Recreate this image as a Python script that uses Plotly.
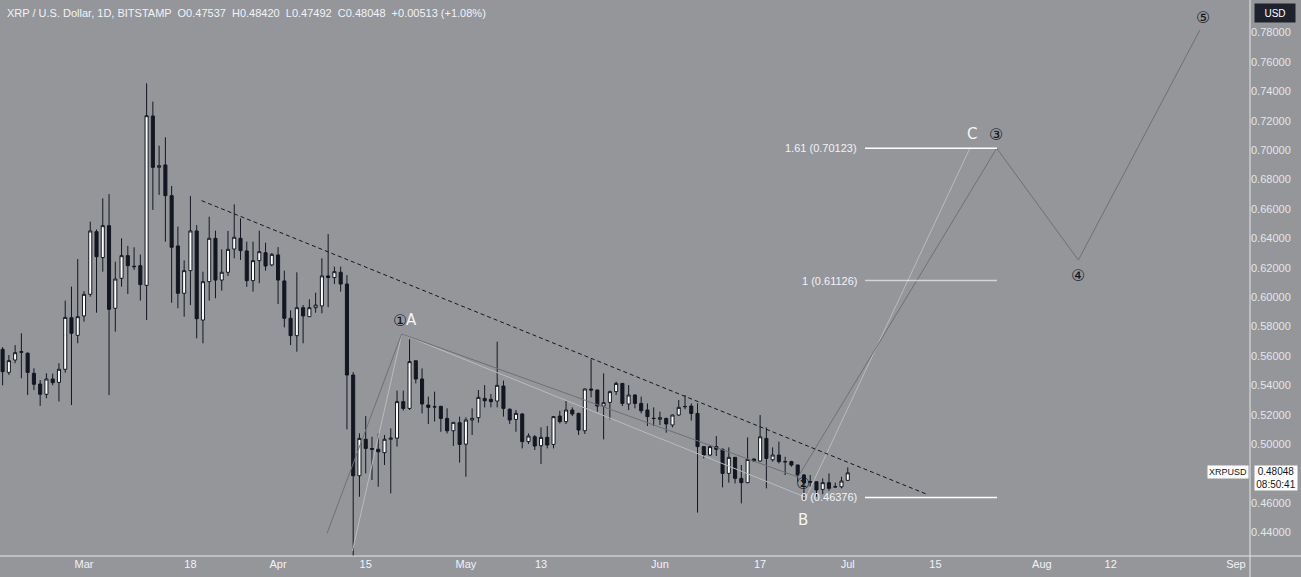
import pandas as pd
import plotly.graph_objects as go

# ---------------- data ----------------
dates = pd.date_range("2024-02-17", "2024-07-01", freq="D")

opens = [
    0.5645, 0.5488, 0.5572, 0.5629, 0.5618, 0.5482, 0.5409, 0.5339, 0.5443, 0.5420, 0.5509, 0.5860, 0.5740,
    0.5872, 0.6019, 0.6445, 0.6269, 0.6486, 0.5924, 0.6128, 0.6282, 0.6210, 0.6214, 0.6080, 0.7232, 0.6883,
    0.6899, 0.6690, 0.6348, 0.6026, 0.6180, 0.6450, 0.5844, 0.6105, 0.6400, 0.6116, 0.6169, 0.6327, 0.6400,
    0.6314, 0.6112, 0.6248, 0.6302, 0.6219,
    0.6287, 0.6110, 0.5856, 0.5738, 0.5928, 0.5867, 0.5928, 0.5940, 0.6144, 0.6133, 0.6169, 0.6089, 0.5470,
    0.4785, 0.5033, 0.4970, 0.4965, 0.4942, 0.5033, 0.5041, 0.5289, 0.5243, 0.5567, 0.5443, 0.5266, 0.5255,
    0.5257, 0.5175, 0.5091, 0.5146,
    0.5000, 0.5164, 0.5180, 0.5311, 0.5305, 0.5293, 0.5395, 0.5237, 0.5168, 0.5205, 0.5017, 0.5050, 0.4989,
    0.5046, 0.4998, 0.5191, 0.5153, 0.5232, 0.5209, 0.5091, 0.5375, 0.5368, 0.5259, 0.5284, 0.5357, 0.5413,
    0.5273, 0.5334, 0.5277, 0.5232, 0.5176,
    0.5169, 0.5175, 0.5130, 0.5198, 0.5254, 0.5259, 0.5209, 0.4983, 0.4926, 0.4983, 0.4965, 0.4801, 0.4910,
    0.4767, 0.4738, 0.4899, 0.4885, 0.5039, 0.4894, 0.4926, 0.4881, 0.4881, 0.4858, 0.4790, 0.4740, 0.4744,
    0.4692, 0.4738, 0.4708, 0.4710,
    0.47537,
]
highs = [
    0.5660, 0.5606, 0.5674, 0.5754, 0.5625, 0.5516, 0.5436, 0.5482, 0.5480, 0.5550, 0.5976, 0.6071, 0.6259,
    0.6040, 0.6513, 0.6460, 0.6672, 0.6701, 0.6241, 0.6400, 0.6348, 0.6339, 0.6290, 0.7454, 0.7330, 0.7030,
    0.7087, 0.6756, 0.6480, 0.6250, 0.6688, 0.6490, 0.6173, 0.6547, 0.6452, 0.6325, 0.6450, 0.6631, 0.6536,
    0.6377, 0.6377, 0.6452, 0.6370, 0.6300,
    0.6340, 0.6180, 0.5910, 0.6169, 0.5946, 0.5985, 0.6030, 0.6264, 0.6429, 0.6207, 0.6207, 0.6150, 0.5490,
    0.5073, 0.5191, 0.5050, 0.5073, 0.5062, 0.5107, 0.5364, 0.5364, 0.5713, 0.5570, 0.5515, 0.5323, 0.5357,
    0.5260, 0.5243, 0.5150, 0.5187,
    0.5182, 0.5243, 0.5368, 0.5402, 0.5341, 0.5697, 0.5432, 0.5243, 0.5232, 0.5210, 0.5073, 0.5062, 0.5114,
    0.5123, 0.5191, 0.5227, 0.5295, 0.5250, 0.5214, 0.5379, 0.5577, 0.5370, 0.5481, 0.5364, 0.5425, 0.5415,
    0.5402, 0.5340, 0.5323, 0.5277, 0.5250,
    0.5221, 0.5180, 0.5200, 0.5300, 0.5334, 0.5277, 0.5277, 0.4985, 0.4994, 0.5055, 0.4970, 0.4978, 0.4912,
    0.4858, 0.5046, 0.4900, 0.5198, 0.5114, 0.4978, 0.5017, 0.4914, 0.4887, 0.4860, 0.4797, 0.4790, 0.4745,
    0.4767, 0.4801, 0.4738, 0.4778,
    0.48420,
]
lows = [
    0.5400, 0.5470, 0.5550, 0.5448, 0.5334, 0.5368, 0.5260, 0.5312, 0.5400, 0.5290, 0.5486, 0.5266, 0.5686,
    0.5833, 0.6003, 0.5894, 0.6173, 0.5334, 0.5765, 0.6071, 0.6021, 0.6185, 0.5976, 0.5844, 0.6593, 0.6695,
    0.6377, 0.5962, 0.5924, 0.5867, 0.5946, 0.5720, 0.5686, 0.5976, 0.5992, 0.6044, 0.6144, 0.6264, 0.6253,
    0.6070, 0.6037, 0.6094, 0.6180, 0.6210,
    0.5953, 0.5794, 0.5674, 0.5629, 0.5686, 0.5867, 0.5894, 0.5890, 0.5931, 0.6089, 0.6037, 0.5100, 0.4200,
    0.4642, 0.4801, 0.4756, 0.4710, 0.4858, 0.4665, 0.4983, 0.5228, 0.5232, 0.5413, 0.5209, 0.5137, 0.5153,
    0.5084, 0.5073, 0.4987, 0.4874,
    0.4778, 0.5062, 0.5146, 0.5250, 0.5250, 0.5250, 0.5187, 0.5137, 0.5084, 0.4971, 0.5001, 0.4960, 0.4865,
    0.4971, 0.4971, 0.5141, 0.5137, 0.5191, 0.5062, 0.5069, 0.5318, 0.5221, 0.5032, 0.5168, 0.5334, 0.5259,
    0.5232, 0.5243, 0.5209, 0.5123, 0.5123,
    0.5130, 0.5078, 0.5114, 0.5191, 0.5237, 0.5160, 0.4534, 0.4903, 0.4919, 0.4919, 0.4706, 0.4738, 0.4733,
    0.4597, 0.4735, 0.4881, 0.4881, 0.4699, 0.4881, 0.4869, 0.4790, 0.4846, 0.4744, 0.4620, 0.4710, 0.4642,
    0.4660, 0.4683, 0.4706, 0.4699,
    0.47492,
]
closes = [
    0.5493, 0.5568, 0.5622, 0.5625, 0.5488, 0.5407, 0.5339, 0.5443, 0.5418, 0.5509, 0.5862, 0.5754, 0.5867,
    0.6019, 0.6450, 0.6275, 0.6486, 0.5917, 0.6123, 0.6282, 0.6214, 0.6207, 0.6085, 0.7234, 0.6883, 0.6894,
    0.6690, 0.6339, 0.6026, 0.6180, 0.6450, 0.5853, 0.6105, 0.6400, 0.6116, 0.6169, 0.6325, 0.6407, 0.6316,
    0.6112, 0.6248, 0.6309, 0.6212, 0.6291,
    0.6116, 0.5856, 0.5738, 0.5928, 0.5872, 0.5928, 0.5946, 0.6144, 0.6133, 0.6173, 0.6089, 0.5470, 0.4785,
    0.5039, 0.4971, 0.4965, 0.4948, 0.5033, 0.5041, 0.5289, 0.5243, 0.5561, 0.5443, 0.5273, 0.5250, 0.5253,
    0.5175, 0.5091, 0.5148, 0.4998,
    0.5164, 0.5175, 0.5318, 0.5295, 0.5289, 0.5400, 0.5243, 0.5164, 0.5209, 0.5017, 0.5055, 0.4987, 0.5046,
    0.4994, 0.5187, 0.5153, 0.5232, 0.5205, 0.5096, 0.5375, 0.5368, 0.5259, 0.5282, 0.5357, 0.5413, 0.5277,
    0.5334, 0.5277, 0.5227, 0.5187, 0.5174,
    0.5180, 0.5137, 0.5198, 0.5250, 0.5256, 0.5209, 0.4983, 0.4926, 0.4983, 0.4965, 0.4801, 0.4910, 0.4767,
    0.4738, 0.4896, 0.4885, 0.5050, 0.4903, 0.4926, 0.4881, 0.4880, 0.4858, 0.4790, 0.4738, 0.4745, 0.4688,
    0.4738, 0.4699, 0.4710, 0.4749,
    0.48048,
]

# drawings (date, price)
trend_dates = ["2024-03-19 19:00", "2024-07-13 15:00"]
trend_prices = [0.6656, 0.4659]

wave_dates = ["2024-04-08 20:00", "2024-04-20 18:00", "2024-06-23 01:00",
              "2024-07-24 19:00", "2024-08-06 20:00", "2024-08-26 06:00"]
wave_prices = [0.4395, 0.5749, 0.4776, 0.70123, 0.6252, 0.7817]

abc_dates = ["2024-04-12 21:00", "2024-04-20 18:00", "2024-06-24 08:00", "2024-07-20 12:00"]
abc_prices = [0.4273, 0.5749, 0.46376, 0.70123]

fib_start = "2024-07-03 18:00"
fib_end = "2024-07-24 20:00"
fib_levels = [0.70123, 0.61126, 0.46376]
fib_labels = ["1.61 (0.70123)", "1 (0.61126)", "0 (0.46376)"]
fib_colors = ["#ffffff", "rgba(255,255,255,0.6)", "#ffffff"]

wave_labels = ["①", "②", "③", "④", "⑤"]
wave_label_dates = ["2024-04-20 12:00", "2024-06-23 21:00", "2024-07-24 17:00",
                    "2024-08-06 20:00", "2024-08-26 18:00"]
wave_label_prices = [0.5840, 0.4735, 0.7104, 0.6150, 0.7905]

abc_labels = ["A", "B", "C"]
abc_label_dates = ["2024-04-22 06:00", "2024-06-23 22:00", "2024-07-20 19:00"]
abc_label_prices = [0.5844, 0.4484, 0.7107]

x_tickvals = ["2024-03-01", "2024-03-18", "2024-04-01", "2024-04-15", "2024-05-01", "2024-05-13",
              "2024-06-01", "2024-06-17", "2024-07-01", "2024-07-15", "2024-08-01", "2024-08-12",
              "2024-09-01"]
x_ticktext = ["Mar", "18", "Apr", "15", "May", "13", "Jun", "17", "Jul", "15", "Aug", "12", "Sep"]
y_tickvals = [0.44, 0.46, 0.50, 0.52, 0.54, 0.56, 0.58, 0.60, 0.62, 0.64, 0.66, 0.68, 0.70,
              0.72, 0.74, 0.76, 0.78]

header = ("XRP / U.S. Dollar, 1D, BITSTAMP  O0.47537  H0.48420  L0.47492  C0.48048  "
          "+0.00513 (+1.08%)")
last_price = 0.48048
countdown = "08:50:41"

# ---------------- styling ----------------
BG = "#949699"
DARK = "#131722"
TXT = "#f0f3fa"
FONT = "Liberation Sans"

fig = go.Figure()

fig.add_trace(go.Candlestick(
    x=dates, open=opens, high=highs, low=lows, close=closes,
    increasing=dict(fillcolor="#ffffff", line=dict(color=DARK, width=1)),
    decreasing=dict(fillcolor=DARK, line=dict(color=DARK, width=1)),
    whiskerwidth=0, showlegend=False, hoverinfo="skip",
))

fig.add_trace(go.Scatter(x=abc_dates, y=abc_prices, mode="lines",
                         line=dict(color="#b9bbbf", width=1), showlegend=False, hoverinfo="skip"))
fig.add_trace(go.Scatter(x=wave_dates, y=wave_prices, mode="lines",
                         line=dict(color="#6e7076", width=1), showlegend=False, hoverinfo="skip"))
fig.add_trace(go.Scatter(x=trend_dates, y=trend_prices, mode="lines",
                         line=dict(color=DARK, width=1, dash="4px,3px"), showlegend=False,
                         hoverinfo="skip"))

for lvl, lab, col in zip(fib_levels, fib_labels, fib_colors):
    fig.add_trace(go.Scatter(x=[fib_start, fib_end], y=[lvl, lvl], mode="lines",
                             line=dict(color=col, width=1.5), showlegend=False, hoverinfo="skip"))
    fig.add_annotation(x=fib_start, y=lvl, text=lab, showarrow=False, xanchor="right",
                       yanchor="middle", xshift=-6, font=dict(family=FONT, size=11, color=TXT))

for t, d, p in zip(wave_labels, wave_label_dates, wave_label_prices):
    fig.add_annotation(x=d, y=p, text=t, showarrow=False, xanchor="center", yanchor="middle",
                       font=dict(family="DejaVu Sans", size=16, color=DARK))
for t, d, p in zip(abc_labels, abc_label_dates, abc_label_prices):
    fig.add_annotation(x=d, y=p, text=t, showarrow=False, xanchor="center", yanchor="middle",
                       font=dict(family="DejaVu Sans", size=15, color="#f4f4f4"))

# header
fig.add_annotation(xref="paper", yref="paper", x=0, y=1, xanchor="left", yanchor="top",
                   xshift=5, yshift=-5, text=header, showarrow=False,
                   font=dict(family=FONT, size=11, color=TXT))

# price-axis boxes
fig.add_annotation(xref="paper", yref="paper", x=1, y=1, xanchor="left", yanchor="top",
                   xshift=4, yshift=-3, text="USD", showarrow=False, bgcolor="#1e222d",
                   width=38, height=16, font=dict(family=FONT, size=10, color="#ffffff"))
fig.add_annotation(xref="paper", yref="y", x=1, y=last_price, xanchor="left", yanchor="top",
                   xshift=4, yshift=8, text=f"{last_price:.5f}<br>{countdown}", showarrow=False,
                   bgcolor="#ffffff", width=40, height=22,
                   font=dict(family=FONT, size=10, color=DARK))
fig.add_annotation(xref="paper", yref="y", x=1, y=last_price, xanchor="right", yanchor="top",
                   xshift=-1, yshift=8, text="XRPUSD", showarrow=False, bgcolor="#ffffff",
                   font=dict(family=FONT, size=9, color=DARK))

# separators
fig.add_shape(type="line", xref="paper", yref="paper", x0=1, x1=1, y0=-0.04, y1=1,
              line=dict(color="#e6e7ea", width=1))
fig.add_shape(type="line", xref="paper", yref="paper", x0=0, x1=1.05, y0=0, y1=0,
              line=dict(color="#e6e7ea", width=1))

fig.update_layout(
    width=1301, height=577, autosize=False,
    margin=dict(l=0, r=51, t=0, b=21),
    paper_bgcolor=BG, plot_bgcolor=BG,
    showlegend=False,
    xaxis=dict(type="date", range=["2024-02-16 14:00", "2024-09-03 06:00"],
               showgrid=False, zeroline=False, rangeslider=dict(visible=False),
               tickvals=x_tickvals, ticktext=x_ticktext, ticks="",
               tickfont=dict(family=FONT, size=11, color=TXT), showline=False),
    yaxis=dict(side="right", range=[0.4239, 0.8021], showgrid=False, zeroline=False,
               tickvals=y_tickvals, tickformat=".5f", ticks="",
               tickfont=dict(family=FONT, size=11, color="#e4e6ea"), showline=False),
)

fig.write_html("out.html")
